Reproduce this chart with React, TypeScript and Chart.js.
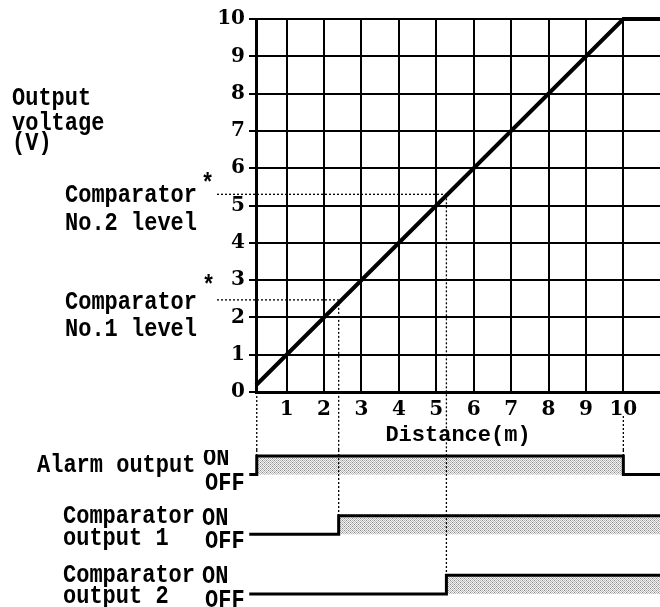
import React, { useEffect, useRef } from 'react';
import { Chart, registerables } from 'chart.js';

Chart.register(...registerables);

// ---- data ----
const X_TICKS = [1, 2, 3, 4, 5, 6, 7, 8, 9, 10];
const Y_TICKS = [0, 1, 2, 3, 4, 5, 6, 7, 8, 9, 10];
const X_MIN = 0.18;
const X_MAX = 10.98;

// Output voltage (V) vs distance (m)
const LINE_DIST = [0.18, 10, 10.98];
const LINE_VOLT = [0.18, 10, 10];

// Comparator levels (V) and the distances (m) where they switch
const COMP_LEVELS = [2.47, 5.3];
const COMP_DIST = [2.39, 5.27];
const ALARM_ON_AT = 0.2;
const ALARM_OFF_AT = 10;

// Timing states (0 = OFF, 1 = ON)
const ALARM_X = [0, 0.2, 10, 10.98];
const ALARM_STATE = [0, 1, 0, 0];
const COMP1_X = [0, 2.39, 10.98];
const COMP1_STATE = [0, 1, 1];
const COMP2_X = [0, 5.27, 10.98];
const COMP2_STATE = [0, 1, 1];

// ---- layout ----
const ROW_BASE = { alarm: 6.4, comp1: 3.2, comp2: 0 };
const MONO = "'Liberation Mono', monospace";
const SERIF = "'DejaVu Serif', serif";
const LABEL_FONT = `bold 22px ${MONO}`;

function dotted(ctx: CanvasRenderingContext2D, x1: number, y1: number, x2: number, y2: number) {
  ctx.beginPath();
  ctx.moveTo(x1, y1);
  ctx.lineTo(x2, y2);
  ctx.stroke();
}

function drawTexts(ctx: CanvasRenderingContext2D, items: [string, number, number][]) {
  items.forEach(([t, x, y]) => {
    ctx.save();
    ctx.fillStyle = '#000';
    ctx.font = LABEL_FONT;
    ctx.textBaseline = 'alphabetic';
    ctx.textAlign = 'left';
    ctx.translate(x, y);
    ctx.scale(1, 1.18);
    ctx.fillText(t, 0, 0);
    ctx.restore();
  });
}

const guides1 = {
  id: 'guides1',
  afterDraw(chart: any) {
    const { ctx, scales } = chart;
    const x = scales.x;
    const y = scales.y;
    ctx.save();
    ctx.strokeStyle = '#000';
    ctx.lineWidth = 1.3;
    ctx.setLineDash([2, 2]);
    COMP_LEVELS.forEach((lv, i) => {
      const py = y.getPixelForValue(lv);
      const px = x.getPixelForValue(COMP_DIST[i]);
      dotted(ctx, 217, py, px, py);
      dotted(ctx, px, py, px, chart.height);
    });
    const pa = x.getPixelForValue(ALARM_ON_AT);
    dotted(ctx, pa, y.getPixelForValue(0), pa, chart.height);
    const pb = x.getPixelForValue(ALARM_OFF_AT);
    dotted(ctx, pb, 416, pb, chart.height);
    ctx.restore();

    drawTexts(ctx, [
      ['Output', 12, 105],
      ['voltage', 12, 130],
      ['(V)', 12, 150],
      ['Comparator', 65, 202],
      ['No.2 level', 65, 230],
      ['Comparator', 65, 309],
      ['No.1 level', 65, 336],
      ['*', 201, 191],
      ['*', 202, 293],
    ]);
  },
};

const guides2 = {
  id: 'guides2',
  afterDraw(chart: any) {
    const { ctx, scales } = chart;
    const x = scales.x;
    const y = scales.y;
    ctx.save();
    ctx.strokeStyle = '#000';
    ctx.lineWidth = 1.3;
    ctx.setLineDash([2, 2]);
    const ev: [number, number][] = [
      [ALARM_ON_AT, ROW_BASE.alarm + 1],
      [ALARM_OFF_AT, ROW_BASE.alarm + 1],
      [COMP_DIST[0], ROW_BASE.comp1 + 1],
      [COMP_DIST[1], ROW_BASE.comp2 + 1],
    ];
    ev.forEach(([d, lv]) => {
      const px = x.getPixelForValue(d);
      dotted(ctx, px, 0, px, y.getPixelForValue(lv));
    });
    ctx.restore();
    drawTexts(ctx, [
      ['Alarm output', 37, 22],
      ['ON', 203, 15],
      ['OFF', 205, 40],
      ['Comparator', 63, 73],
      ['output 1', 63, 95],
      ['ON', 202, 75],
      ['OFF', 205, 98],
      ['Comparator', 63, 132],
      ['output 2', 63, 153],
      ['ON', 202, 133],
      ['OFF', 205, 157],
    ]);
  },
};

function makePattern(): CanvasPattern | string {
  const c = document.createElement('canvas');
  c.width = 4;
  c.height = 4;
  const g = c.getContext('2d');
  if (!g) return '#dddddd';
  g.fillStyle = '#f4f4f4';
  g.fillRect(0, 0, 4, 4);
  g.fillStyle = '#b8b8b8';
  for (let i = 0; i < 4; i++) {
    for (let j = 0; j < 4; j++) {
      if ((i + j) % 2 === 0) g.fillRect(i, j, 1, 1);
    }
  }
  g.fillStyle = '#8a8a8a';
  g.fillRect(0, 0, 1, 1);
  g.fillRect(2, 2, 1, 1);
  return g.createPattern(c, 'repeat') || '#dddddd';
}

export default function App() {
  const r1 = useRef<HTMLCanvasElement>(null);
  const r2 = useRef<HTMLCanvasElement>(null);

  useEffect(() => {
    const tickFont = { family: SERIF, weight: 'bold' as const, size: 20 };
    const c1 = new Chart(r1.current!, {
      type: 'line',
      data: {
        datasets: [
          {
            data: LINE_DIST.map((d, i) => ({ x: d, y: LINE_VOLT[i] })),
            borderColor: '#000',
            borderWidth: 4,
            pointRadius: 0,
            tension: 0,
            clip: false as any,
          },
        ],
      },
      options: {
        animation: false,
        responsive: false,
        events: [],
        layout: { padding: { top: 19, left: 0, right: 0, bottom: 0 } },
        plugins: { legend: { display: false }, tooltip: { enabled: false } },
        scales: {
          x: {
            type: 'linear',
            min: X_MIN,
            max: X_MAX,
            afterBuildTicks: (s: any) => {
              s.ticks = X_TICKS.map((v) => ({ value: v }));
            },
            afterFit: (s: any) => {
              s.height = 58;
            },
            grid: { color: '#000', lineWidth: 2, drawTicks: false },
            border: { color: '#000', width: 3 },
            ticks: { color: '#000', font: tickFont, padding: 6, maxRotation: 0, autoSkip: false },
            title: {
              display: true,
              text: 'Distance(m)',
              color: '#000',
              font: { family: MONO, weight: 'bold', size: 22 },
              padding: { top: 0, bottom: 1 },
            },
          },
          y: {
            type: 'linear',
            min: 0,
            max: 10,
            afterBuildTicks: (s: any) => {
              s.ticks = Y_TICKS.map((v) => ({ value: v }));
            },
            afterFit: (s: any) => {
              s.width = 256;
            },
            grid: { color: '#000', lineWidth: 2, tickLength: 7 },
            border: { color: '#000', width: 3 },
            ticks: { color: '#000', font: tickFont, padding: 4 },
          },
        },
      } as any,
      plugins: [guides1],
    });

    const pat = makePattern();
    const step = (xs: number[], st: number[], base: number) => ({
      data: xs.map((d, i) => ({ x: d, y: base + st[i] })),
      borderColor: '#000',
      borderWidth: 3,
      pointRadius: 0,
      stepped: 'before' as const,
      fill: { value: base },
      backgroundColor: pat,
      clip: false as any,
    });

    const c2 = new Chart(r2.current!, {
      type: 'line',
      data: {
        datasets: [
          step(ALARM_X, ALARM_STATE, ROW_BASE.alarm),
          step(COMP1_X, COMP1_STATE, ROW_BASE.comp1),
          step(COMP2_X, COMP2_STATE, ROW_BASE.comp2),
        ],
      },
      options: {
        animation: false,
        responsive: false,
        events: [],
        layout: { padding: { top: 0, left: 256, right: 0, bottom: 0 } },
        plugins: { legend: { display: false }, tooltip: { enabled: false } },
        scales: {
          x: { type: 'linear', min: X_MIN, max: X_MAX, display: false },
          y: { type: 'linear', min: -0.697, max: 7.72, display: false },
        },
      } as any,
      plugins: [guides2],
    });

    return () => {
      c1.destroy();
      c2.destroy();
    };
  }, []);

  return (
    <div style={{ position: 'absolute', left: 0, top: 0, width: 660, height: 607, background: '#fff' }}>
      <canvas ref={r1} width={660} height={450} style={{ position: 'absolute', left: 0, top: 0 }} />
      <canvas ref={r2} width={660} height={157} style={{ position: 'absolute', left: 0, top: 450 }} />
    </div>
  );
}
